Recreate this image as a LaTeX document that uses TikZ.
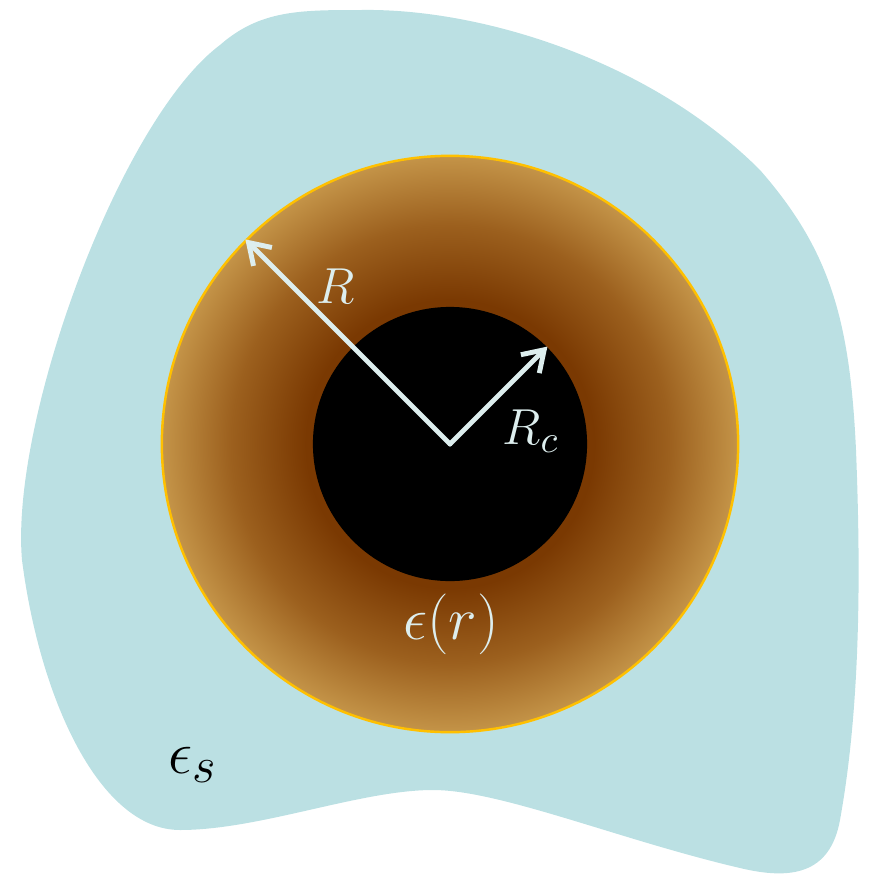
\documentclass[tikz,border=0pt]{standalone}
\usepackage{tikz}
\usetikzlibrary{arrows.meta,positioning}
\definecolor{solventblue}{RGB}{187,224,227}
\definecolor{shellgold}{RGB}{255,192,0}
\definecolor{brdark}{RGB}{122,57,2}
\definecolor{brmid}{RGB}{156,96,30}
\definecolor{brlight}{RGB}{196,148,72}
\definecolor{labelwhite}{RGB}{221,238,238}
\pgfdeclareradialshading{shellshade}{\pgfpoint{0bp}{0bp}}{color(0bp)=(brdark); color(12.5bp)=(brdark); color(19bp)=(brmid); color(25bp)=(brlight); color(50bp)=(brlight)}
\tikzset{
  solvent/.style={fill=solventblue},
  shellball/.style={
    circle,
    draw=shellgold,
    line width=0.7pt,
    shading=shellshade,
    minimum size=5.76cm,
    inner sep=0pt
  },
  coreball/.style={
    circle,
    fill=black,
    minimum size=2.74cm,
    inner sep=0pt
  },
  radarrow/.style={
    -{Straight Barb[length=2mm,width=2.6mm]},
    draw=labelwhite,
    line width=1.4pt,
    line cap=round
  },
  radlabel/.style={text=labelwhite, inner sep=0pt, font=\fontsize{15}{18}\selectfont},
  permlabel/.style={inner sep=0pt, font=\fontsize{19}{22}\selectfont}
}

\begin{document}
\begin{tikzpicture}[x=0.01cm,y=-0.01cm]
\useasboundingbox (0,0) rectangle (869,875);
% solvent region
\fill[solvent] (361,10) .. controls (480,8) and (650,60) .. (760,170)
  .. controls (830,250) and (850,320) .. (856,450)
  .. controls (862,600) and (858,720) .. (840,820)
  .. controls (830,875) and (790,880) .. (740,868)
  .. controls (620,840) and (500,790) .. (433,790)
  .. controls (360,790) and (260,830) .. (180,830)
  .. controls (100,830) and (40,700) .. (22,560)
  .. controls (10,420) and (120,120) .. (220,45)
  .. controls (260,10) and (300,10) .. (361,10) -- cycle;
% shell and core
\node[shellball] (shell) at (450,444) {};
\node[coreball] (core) at (shell.center) {};
\draw[radarrow] (core.center) -- (shell.135);
\draw[radarrow] (core.center) -- (core.45);
% labels
\node[radlabel] (lblR) at (336,286) {$R$};
\node[radlabel] (lblRc) at (531,431) {$R_c$};
\node[permlabel, text=labelwhite] (lbleps) at (451,624) {$\epsilon(r)$};
\node[permlabel] (lblepss) at (193,765) {$\epsilon_s$};
\end{tikzpicture}
\end{document}
